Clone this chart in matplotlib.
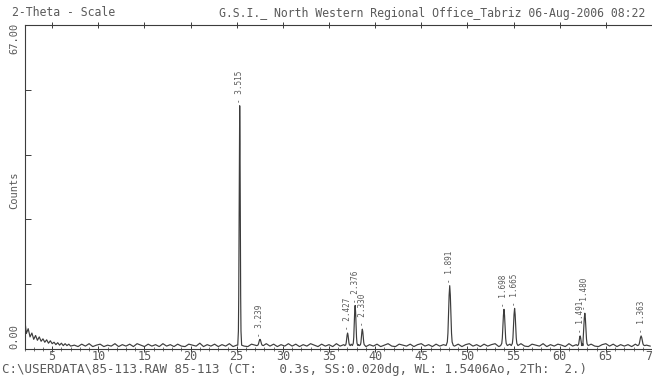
import numpy as np
import matplotlib
matplotlib.use("Agg")
import matplotlib.pyplot as plt
from matplotlib.ticker import MultipleLocator

# ---------------- data ----------------
# low-angle background (2-theta, counts)
lo_2theta = [2.0, 2.2, 2.4, 2.6, 2.8, 3.0, 3.2, 3.4, 3.6, 3.8, 4.0, 4.2, 4.4,
             4.6, 4.8, 5.0, 5.2, 5.4, 5.6, 5.8, 6.0, 6.2, 6.4, 6.6, 6.8, 7.0]
lo_counts = [6.6, 3.2, 4.2, 2.5, 3.3, 2.0, 2.8, 1.8, 2.5, 1.6, 2.1, 1.4, 1.9,
             1.2, 1.7, 1.1, 1.4, 0.9, 1.3, 0.8, 1.2, 0.7, 1.1, 0.7, 1.0, 0.6]

# background counts sampled every 0.4 deg from 7.4 deg
bg_start, bg_step = 7.4, 0.4
bg_counts = [
    0.8, 0.5, 1.0, 0.6, 1.1, 0.5, 0.8, 1.0, 0.5, 0.8,
    0.6, 1.1, 0.5, 0.9, 0.6, 1.0, 0.5, 1.1, 0.8, 0.5,
    1.0, 0.6, 0.9, 0.5, 1.1, 0.6, 0.9, 0.5, 1.0, 0.6,
    0.5, 1.0, 0.8, 0.6, 1.2, 0.5, 0.9, 0.6, 1.0, 0.5,
    0.9, 0.6, 1.1, 0.5, 0.8, 1.0, 0.6, 0.5, 1.0, 0.8,
    0.5, 0.9, 1.1, 0.6, 1.0, 0.5, 0.9, 0.6, 1.1, 0.6,
    1.0, 0.5, 0.9, 0.6, 1.1, 0.8, 0.5, 1.0, 0.6, 0.9,
    0.5, 1.1, 0.6, 0.9, 0.5, 1.0, 0.6, 0.9, 1.1, 0.5,
    0.9, 0.6, 1.0, 0.5, 0.8, 1.1, 0.6, 0.5, 1.0, 0.8,
    0.6, 1.0, 0.5, 0.9, 1.1, 0.6, 0.9, 0.5, 1.0, 0.6,
    0.9, 0.5, 1.1, 0.6, 1.0, 0.5, 0.9, 1.1, 0.6, 0.9,
    0.5, 1.0, 0.6, 0.9, 1.1, 0.5, 0.9, 0.6, 1.0, 0.5,
    0.9, 1.1, 0.6, 0.5, 1.0, 0.8, 0.6, 1.1, 0.5, 0.9,
    0.6, 1.0, 0.8, 0.5, 1.1, 0.6, 0.9, 1.0, 0.5, 0.9,
    1.0, 0.6, 0.5, 0.9, 1.1, 0.6, 1.0, 0.5, 0.9, 0.6,
    0.9, 0.5, 1.0, 0.6, 1.1, 0.8, 0.6,
]

# peaks
peak_2theta = [25.32, 27.52, 37.01, 37.83, 38.61, 48.08, 53.96, 55.11, 62.21, 62.72, 68.82]
peak_counts = [50.3, 2.0, 3.3, 9.0, 4.1, 13.1, 8.2, 8.4, 2.7, 7.4, 2.7]
peak_width = [0.07, 0.12, 0.10, 0.10, 0.10, 0.13, 0.12, 0.12, 0.10, 0.12, 0.13]
peak_d = ["3.515", "3.239", "2.427", "2.376", "2.330", "1.891",
          "1.698", "1.665", "1.491", "1.480", "1.363"]

x_ticks = [5, 10, 15, 20, 25, 30, 35, 40, 45, 50, 55, 60, 65, 70]
y_max = 67.0

header_left = "2-Theta - Scale"
header_right = "G.S.I._ North Western Regional Office_Tabriz 06-Aug-2006 08:22"
footer = "C:\\USERDATA\\85-113.RAW 85-113 (CT:   0.3s, SS:0.020dg, WL: 1.5406Ao, 2Th:  2.)"

# ---------------- build curve ----------------
bg_x = bg_start + bg_step * np.arange(len(bg_counts))
bg_y = np.array(bg_counts)
keep = np.ones(len(bg_x), bool)
for p, w in zip(peak_2theta, peak_width):
    keep &= np.abs(bg_x - p) > 3.3 * w
xs = list(lo_2theta) + list(bg_x[keep])
ys = list(lo_counts) + list(bg_y[keep])
offs = np.array([-3, -2, -1.5, -1, -0.5, 0, 0.5, 1, 1.5, 2, 3])
base = 0.7
for p, h, w in zip(peak_2theta, peak_counts, peak_width):
    px = p + offs * w
    py = base + (h - base) * np.exp(-0.7 * offs ** 2)
    xs += list(px)
    ys += list(py)
order = np.argsort(xs)
xs = np.array(xs)[order]
ys = np.array(ys)[order]

# ---------------- figure ----------------
W, H = 652, 376
fig = plt.figure(figsize=(W / 100, H / 100), dpi=100)
fig.patch.set_facecolor("white")
ax_bottom_px = 349
ax = fig.add_axes([24.5 / W, (H - ax_bottom_px) / H, 1 - 24.5 / W, (ax_bottom_px - 25) / H])

line_c = "#3c3c3c"
text_c = "#5a5a5a"
mono = "DejaVu Sans Mono"

ax.plot(xs, ys, color=line_c, lw=0.85)

ax.set_xlim(2, 70)
ax.set_ylim(0, y_max)

for s in ["left", "top", "bottom"]:
    ax.spines[s].set_color(line_c)
    ax.spines[s].set_linewidth(0.8)
ax.spines["right"].set_visible(False)

ax.set_xticks(x_ticks)
ax.set_xticklabels([str(t) for t in x_ticks], fontfamily=mono, fontsize=8.5, color=text_c)
ax.xaxis.set_minor_locator(MultipleLocator(1))
ax.tick_params(axis="x", which="major", direction="inout", length=4, width=0.7,
               color=line_c, pad=-1, top=True)
ax.tick_params(axis="x", which="minor", direction="inout", length=2.5, width=0.5,
               color=line_c, top=False)
ax.set_yticks(np.linspace(0, y_max, 6)[1:-1])
ax.set_yticklabels([])
ax.tick_params(axis="y", direction="in", length=4, width=0.7, color=line_c)

# peak labels
for p, h, d in zip(peak_2theta, peak_counts, peak_d):
    ax.annotate("- " + d, xy=(p, h), xytext=(0, 2), textcoords="offset points",
                rotation=90, ha="center", va="bottom", fontsize=5.5,
                fontfamily=mono, color=text_c)

# axis value labels
fig.text(14 / W, 1 - 23 / H, "67.00", rotation=90, ha="center", va="top",
         fontsize=7.5, fontfamily=mono, color=text_c)
fig.text(14 / W, 1 - 349 / H, "0.00", rotation=90, ha="center", va="bottom",
         fontsize=7.5, fontfamily=mono, color=text_c)
fig.text(14 / W, 1 - 190 / H, "Counts", rotation=90, ha="center", va="center",
         fontsize=7.5, fontfamily=mono, color=text_c)

# header / footer
fig.text(12 / W, 1 - 13 / H, header_left, ha="left", va="center",
         fontsize=8.3, fontfamily=mono, color=text_c)
fig.text(645 / W, 1 - 13 / H, header_right, ha="right", va="center",
         fontsize=8.3, fontfamily=mono, color=text_c)
fig.text(2 / W, 1 - 370 / H, footer, ha="left", va="center",
         fontsize=9.0, fontfamily=mono, color=text_c)

fig.savefig("out.png", dpi=100, facecolor="white")
